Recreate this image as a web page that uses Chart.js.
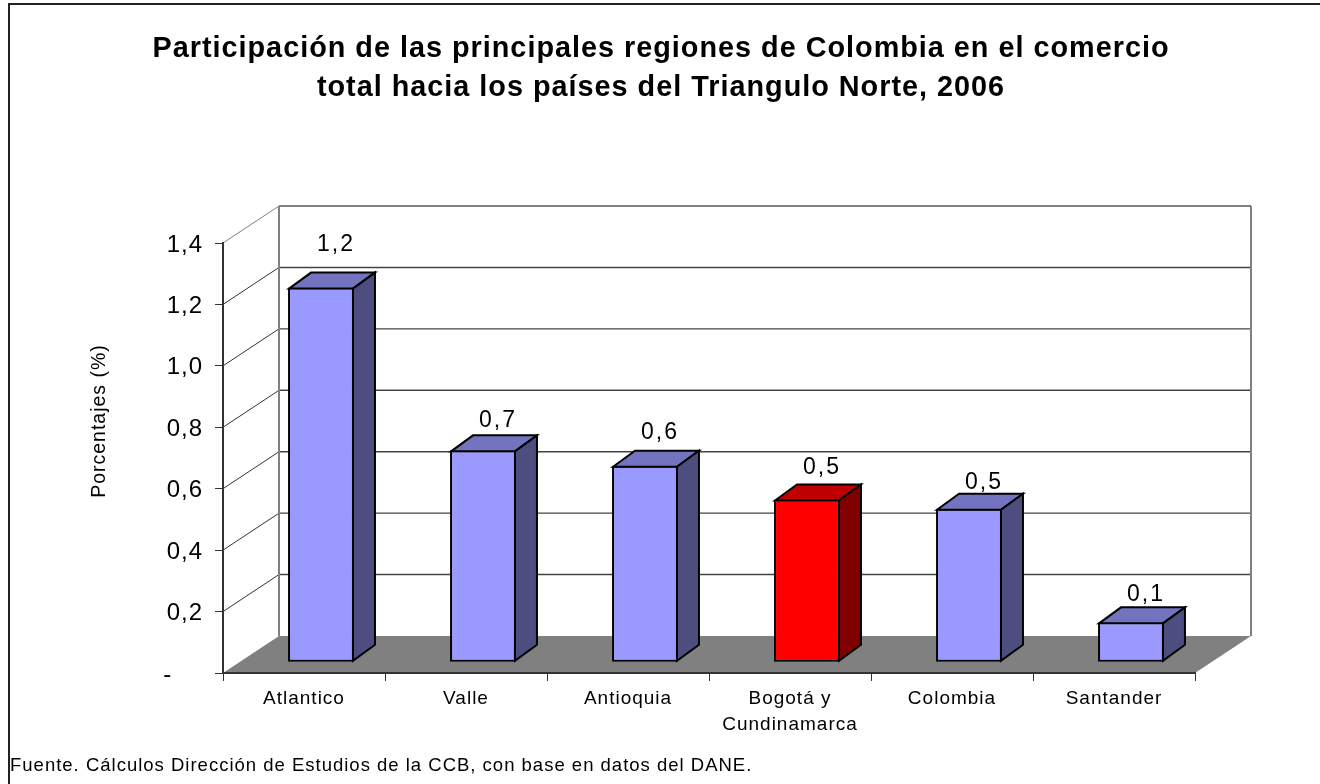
<!DOCTYPE html>
<html lang="es">
<head>
<meta charset="utf-8">
<title>Participación regiones</title>
<script src="https://cdn.jsdelivr.net/npm/chart.js@4"></script>
<style>
  html, body { margin: 0; padding: 0; background: #fff; }
  #wrap { width: 1320px; height: 784px; }
</style>
</head>
<body>
<div id="wrap"><canvas id="chart" width="1320" height="784"></canvas></div>
<script>
const categories = ['Atlantico', 'Valle', 'Antioquia', ['Bogotá y', 'Cundinamarca'], 'Colombia', 'Santander']
const values = [1.22, 0.69, 0.64, 0.53, 0.5, 0.13]
const titleLines = [
  'Participación de las principales regiones de Colombia en el comercio',
  'total hacia los países del Triangulo Norte, 2006',
]
const axisTitle = 'Porcentajes (%)'
const sourceNote = 'Fuente. Cálculos Dirección de Estudios de la CCB, con base en datos del DANE.'

const frontColors = ['#9999ff', '#9999ff', '#9999ff', '#ff0000', '#9999ff', '#9999ff']
const topColors = ['#7373bf', '#7373bf', '#7373bf', '#bf0000', '#7373bf', '#7373bf']
const sideColors = ['#4d4d80', '#4d4d80', '#4d4d80', '#800000', '#4d4d80', '#4d4d80']
const labelLift = [43, 30, 33, 32, 26, 28]

const FONT = '"Liberation Sans", Arial, sans-serif'
// 3D look: wall depth, how far the bars sit from the front, and bar depth
const WALL_DX = 56
const WALL_DY = 37
const BAR_DX = 17
const BAR_DY = 10.7
const DEPTH_DX = 22
const DEPTH_DY = 16

function decimal(v) {
  return v.toFixed(1).replace('.', ',')
}

const chart3d = {
  id: 'chart3d',
  beforeDraw(chart) {
    const { ctx, chartArea: a, scales } = chart
    ctx.letterSpacing = '1px'
    ctx.save()

    // outer frame, only top and left show in the picture
    ctx.fillStyle = '#222'
    ctx.fillRect(8, 3, 1312, 2)
    ctx.fillRect(8, 3, 2, 781)

    // floor
    ctx.fillStyle = '#808080'
    ctx.beginPath()
    ctx.moveTo(a.left, a.bottom)
    ctx.lineTo(a.left + WALL_DX, a.bottom - WALL_DY)
    ctx.lineTo(a.right + WALL_DX, a.bottom - WALL_DY)
    ctx.lineTo(a.right, a.bottom)
    ctx.closePath()
    ctx.fill()

    // back wall gridlines and left wall diagonals
    const top = scales.y.max
    scales.y.ticks.forEach((t) => {
      if (t.value === 0) return
      const y = scales.y.getPixelForValue(t.value)
      const isTop = t.value === top
      ctx.strokeStyle = isTop ? '#808080' : '#333'
      ctx.lineWidth = 1
      ctx.beginPath()
      ctx.moveTo(a.left, y)
      ctx.lineTo(a.left + WALL_DX, y - WALL_DY)
      ctx.stroke()
      ctx.lineWidth = isTop ? 2 : 1.4
      ctx.strokeStyle = isTop ? '#808080' : '#444'
      ctx.beginPath()
      ctx.moveTo(a.left + WALL_DX, y - WALL_DY)
      ctx.lineTo(a.right + WALL_DX, y - WALL_DY)
      ctx.stroke()
    })

    // wall corners
    ctx.strokeStyle = '#808080'
    ctx.lineWidth = 2
    ;[a.left, a.right].forEach((x) => {
      ctx.beginPath()
      ctx.moveTo(x + WALL_DX, a.top - WALL_DY)
      ctx.lineTo(x + WALL_DX, a.bottom - WALL_DY)
      ctx.stroke()
    })
    ctx.restore()
  },
  beforeDatasetDraw(chart) {
    chart.ctx.save()
    chart.ctx.translate(BAR_DX, -BAR_DY)
  },
  afterDatasetDraw(chart, args) {
    const { ctx } = chart
    ctx.lineWidth = 2
    ctx.lineJoin = 'miter'
    ctx.strokeStyle = '#000'
    args.meta.data.forEach((bar, i) => {
      const left = bar.x - bar.width / 2 + 1
      const right = bar.x + bar.width / 2 - 1
      const y = bar.y + 1
      const base = bar.base - 1

      ctx.fillStyle = topColors[i]
      ctx.beginPath()
      ctx.moveTo(left, y)
      ctx.lineTo(left + DEPTH_DX, y - DEPTH_DY)
      ctx.lineTo(right + DEPTH_DX, y - DEPTH_DY)
      ctx.lineTo(right, y)
      ctx.closePath()
      ctx.fill()
      ctx.stroke()

      ctx.fillStyle = sideColors[i]
      ctx.beginPath()
      ctx.moveTo(right, y)
      ctx.lineTo(right + DEPTH_DX, y - DEPTH_DY)
      ctx.lineTo(right + DEPTH_DX, base - DEPTH_DY)
      ctx.lineTo(right, base)
      ctx.closePath()
      ctx.fill()
      ctx.stroke()
    })
    ctx.restore()
  },
  afterDraw(chart) {
    const { ctx } = chart
    ctx.save()
    ctx.fillStyle = '#000'
    ctx.textAlign = 'center'
    ctx.textBaseline = 'middle'

    // value labels above each bar
    ctx.font = `23px ${FONT}`
    ctx.letterSpacing = '2px'
    chart.getDatasetMeta(0).data.forEach((bar, i) => {
      ctx.fillText(decimal(values[i]), bar.x + BAR_DX + 15, bar.y - BAR_DY - labelLift[i])
    })

    // y axis title sits above the axis middle in the reference
    ctx.font = `19.5px ${FONT}`
    ctx.letterSpacing = '1px'
    ctx.translate(100, 421)
    ctx.rotate(-Math.PI / 2)
    ctx.fillText(axisTitle, 0, 0)
    ctx.restore()
  },
}

new Chart(document.getElementById('chart'), {
  type: 'bar',
  data: {
    labels: categories,
    datasets: [
      {
        data: values,
        backgroundColor: frontColors,
        borderColor: '#000',
        borderWidth: 2,
        borderSkipped: false,
        barPercentage: 0.407,
        categoryPercentage: 1,
        clip: false,
      },
    ],
  },
  options: {
    responsive: false,
    animation: false,
    layout: { padding: { left: 10, right: 8, top: 0, bottom: 0 } },
    plugins: {
      legend: { display: false },
      tooltip: { enabled: false },
      title: {
        display: true,
        text: titleLines,
        color: '#000',
        font: { family: FONT, size: 28.8, weight: 'bold', lineHeight: 39 / 28.8 },
        padding: { top: 30, bottom: 135 },
      },
      subtitle: {
        display: true,
        position: 'bottom',
        align: 'start',
        text: sourceNote,
        color: '#000',
        font: { family: FONT, size: 18.5, lineHeight: 22 / 18.5 },
        padding: { top: 0, bottom: 7 },
      },
    },
    scales: {
      x: {
        grid: { drawOnChartArea: false, tickLength: 8, color: '#333', offset: true },
        border: { color: '#333', width: 2 },
        ticks: {
          color: '#000',
          padding: 5,
          maxRotation: 0,
          autoSkip: false,
          font: { family: FONT, size: 19, lineHeight: 26 / 19 },
        },
        afterFit(scale) {
          scale.height = 82
        },
      },
      y: {
        min: 0,
        max: 1.4,
        grid: { drawOnChartArea: false, tickLength: 8, color: '#333' },
        border: { color: '#333', width: 2 },
        ticks: {
          stepSize: 0.2,
          color: '#000',
          padding: 12,
          labelOffset: 2,
          font: { family: FONT, size: 24 },
          callback: (v) => (v === 0 ? '-\u00a0\u00a0\u00a0\u00a0' : decimal(v)),
        },
        afterFit(scale) {
          scale.width = 213
        },
      },
      // empty axis, holds the space to the right of the plot
      spacer: {
        position: 'right',
        grid: { display: false },
        border: { display: false },
        ticks: { display: false },
        afterFit(scale) {
          scale.width = 117
        },
      },
    },
  },
  plugins: [chart3d],
})
</script>
</body>
</html>
